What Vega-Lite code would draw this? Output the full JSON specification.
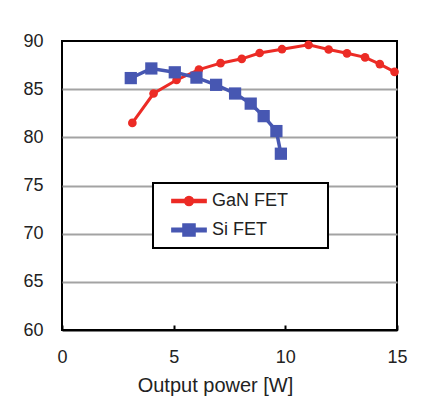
{
  "$schema": "https://vega.github.io/schema/vega-lite/v6.json",
  "width": 335,
  "height": 289,
  "autosize": {"type": "none"},
  "padding": {"left": 62, "top": 41, "right": 26, "bottom": 71},
  "background": "white",
  "config": {
    "view": {"stroke": "black", "strokeWidth": 2},
    "font": "Liberation Sans"
  },
  "data": {
    "values": [
      {"series": "GaN FET", "power": 3.15, "eff": 81.5},
      {"series": "GaN FET", "power": 4.1, "eff": 84.55},
      {"series": "GaN FET", "power": 5.13, "eff": 85.95},
      {"series": "GaN FET", "power": 6.13, "eff": 87.03},
      {"series": "GaN FET", "power": 7.1, "eff": 87.7},
      {"series": "GaN FET", "power": 8.05, "eff": 88.15},
      {"series": "GaN FET", "power": 8.85, "eff": 88.75},
      {"series": "GaN FET", "power": 9.85, "eff": 89.15},
      {"series": "GaN FET", "power": 11.04, "eff": 89.6},
      {"series": "GaN FET", "power": 11.94, "eff": 89.12},
      {"series": "GaN FET", "power": 12.76, "eff": 88.72},
      {"series": "GaN FET", "power": 13.57, "eff": 88.3},
      {"series": "GaN FET", "power": 14.23, "eff": 87.6},
      {"series": "GaN FET", "power": 14.89, "eff": 86.8},
      {"series": "Si FET", "power": 3.08, "eff": 86.15},
      {"series": "Si FET", "power": 4.0, "eff": 87.15},
      {"series": "Si FET", "power": 5.05, "eff": 86.75},
      {"series": "Si FET", "power": 6.02, "eff": 86.2},
      {"series": "Si FET", "power": 6.9, "eff": 85.45},
      {"series": "Si FET", "power": 7.75, "eff": 84.55},
      {"series": "Si FET", "power": 8.45, "eff": 83.5},
      {"series": "Si FET", "power": 9.03, "eff": 82.2},
      {"series": "Si FET", "power": 9.6, "eff": 80.65},
      {"series": "Si FET", "power": 9.8, "eff": 78.3}
    ]
  },
  "encoding": {
    "x": {
      "field": "power", "type": "quantitative",
      "scale": {"domain": [0, 15], "nice": false},
      "axis": {
        "values": [0, 5, 10, 15],
        "title": "Output power [W]",
        "grid": false,
        "domain": true, "domainColor": "black", "domainWidth": 2,
        "ticks": true, "tickSize": -5, "tickColor": "black", "tickWidth": 2,
        "labelFont": "Liberation Sans", "labelFontSize": 18, "labelColor": "#222222",
        "labelPadding": 23, "labelFlush": false,
        "titleFont": "Liberation Sans", "titleFontSize": 20, "titleFontWeight": "normal",
        "titleColor": "#222222", "titlePadding": 9, "titleX": 153
      }
    },
    "y": {
      "field": "eff", "type": "quantitative",
      "scale": {"domain": [60, 90], "nice": false, "zero": false},
      "axis": {
        "values": [60, 65, 70, 75, 80, 85, 90],
        "title": null,
        "grid": true, "gridColor": "#a3a3a3", "gridWidth": 2,
        "gridOpacity": {"condition": {"test": "datum.value == 90 || datum.value == 60", "value": 0}, "value": 1},
        "domain": false, "ticks": false,
        "labelFont": "Liberation Sans", "labelFontSize": 18, "labelColor": "#222222",
        "labelPadding": 19
      }
    },
    "color": {
      "field": "series", "type": "nominal",
      "scale": {"domain": ["GaN FET", "Si FET"], "range": ["#ec2b25", "#4757b2"]},
      "legend": {
        "title": "\u00a0",
        "titleOrient": "right",
        "titlePadding": 32,
        "titleFontSize": 4,
        "orient": "none",
        "legendX": 91,
        "legendY": 142,
        "padding": 8,
        "fillColor": "white",
        "strokeColor": "black",
        "symbolSize": 324,
        "symbolOffset": 18,
        "labelOffset": 13,
        "rowPadding": 10,
        "labelFont": "Liberation Sans",
        "labelFontSize": 18,
        "labelColor": "#222222",
        "encode": {
          "legend": {
            "update": {
              "strokeWidth": {"value": 2}
            }
          },
          "symbols": {
            "update": {
              "shape": {"signal": "datum.value == 'GaN FET' ? 'M-1.9,-0.17H1.9V0.17H-1.9Z M0.5,0A0.5,0.5,0,1,1,-0.5,0A0.5,0.5,0,1,1,0.5,0Z' : 'M-1.9,-0.19H1.9V0.19H-1.9Z M-0.67,-0.67H0.67V0.67H-0.67Z'"},
              "fill": {"signal": "datum.value == 'GaN FET' ? '#ec2b25' : '#4757b2'"},
              "stroke": {"value": "transparent"},
              "opacity": {"value": 1}
            }
          }
        }
      }
    }
  },
  "layer": [
    {
      "transform": [{"filter": "datum.series == 'GaN FET'"}],
      "mark": {"type": "line", "strokeWidth": 3}
    },
    {
      "transform": [{"filter": "datum.series == 'GaN FET'"}],
      "mark": {"type": "point", "filled": true, "opacity": 1, "shape": "circle", "size": 75}
    },
    {
      "transform": [{"filter": "datum.series == 'Si FET'"}],
      "mark": {"type": "line", "strokeWidth": 3.5}
    },
    {
      "transform": [{"filter": "datum.series == 'Si FET'"}],
      "mark": {"type": "point", "filled": true, "opacity": 1, "shape": "square", "size": 150}
    }
  ]
}
